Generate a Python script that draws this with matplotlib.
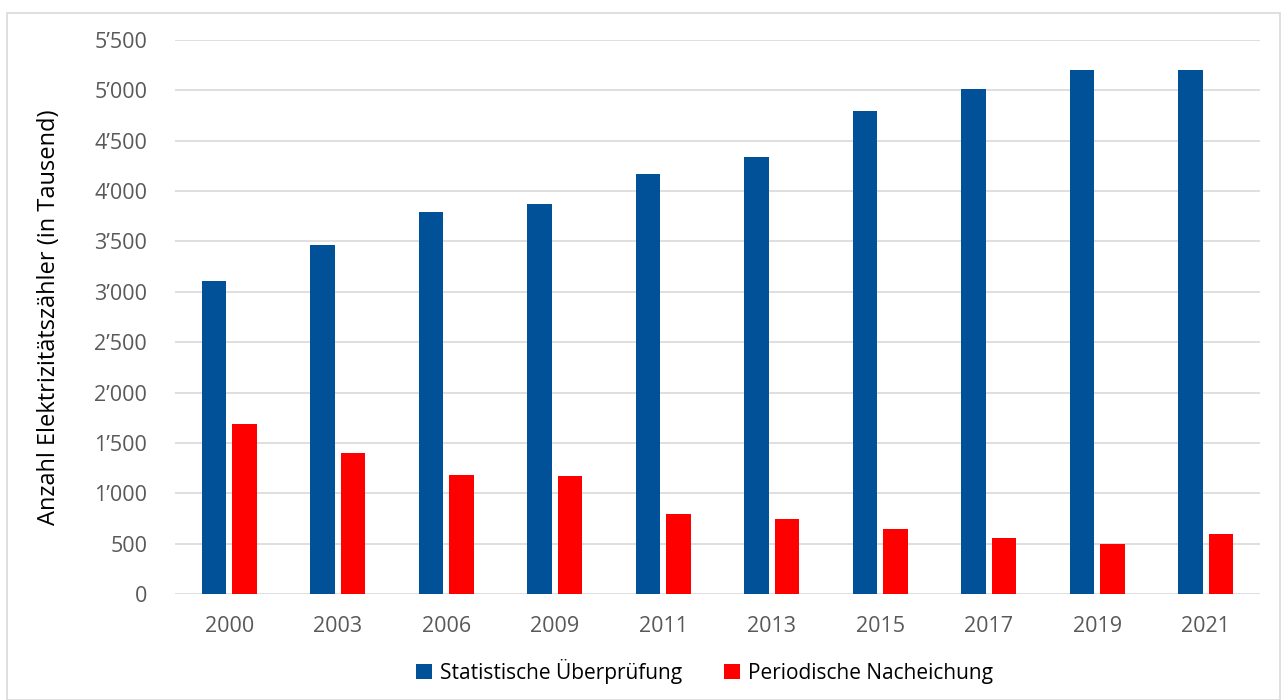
import numpy as np
import matplotlib
matplotlib.use("Agg")
import matplotlib.pyplot as plt
from matplotlib.patches import Rectangle
from matplotlib.ticker import FuncFormatter, MultipleLocator

years = ["2000", "2003", "2006", "2009", "2011", "2013", "2015", "2017", "2019", "2021"]
statistische = [3110, 3460, 3790, 3870, 4170, 4340, 4800, 5010, 5200, 5200]
periodische = [1690, 1400, 1180, 1170, 790, 740, 650, 560, 500, 600]

plt.rcParams['font.family'] = ['Open Sans', 'DejaVu Sans']

fig = plt.figure(figsize=(12.88, 7.0), dpi=100)
ax = fig.add_axes([175 / 1288, 1 - 594 / 700, (1260 - 175) / 1288, (594 - 40) / 700])

# Outer chart border
fig.patches.append(Rectangle((7 / 1288, 0), 1273 / 1288, 1 - 13 / 700, transform=fig.transFigure,
                             fill=False, edgecolor='#d9d9d9', linewidth=1.2))

x = np.arange(len(years))
barWidth = 0.225
ax.bar(x - 0.14, statistische, barWidth, color='#005197', label='Statistische Überprüfung', zorder=3)
ax.bar(x + 0.14, periodische, barWidth, color='#ff0000', label='Periodische Nacheichung', zorder=3)

ax.set_xlim(-0.5, len(years) - 0.5)
ax.set_ylim(0, 5500)
ax.yaxis.set_major_locator(MultipleLocator(500))
ax.yaxis.set_major_formatter(FuncFormatter(lambda v, p: f"{int(v):,}".replace(",", "\u2019")))
ax.set_xticks(x)
ax.set_xticklabels(years)

ax.grid(axis='y', color='#d9d9d9', linewidth=1.2, zorder=0)
for s in ['top', 'right', 'left', 'bottom']:
    ax.spines[s].set_visible(False)
ax.tick_params(axis='both', length=0, labelsize=15.5, labelcolor='#595959')
ax.tick_params(axis='y', pad=20)
ax.tick_params(axis='x', pad=16)

ax.set_ylabel("Anzahl Elektrizitätszähler (in Tausend)", fontsize=17, color='black', labelpad=24)

ax.legend(loc='center', bbox_to_anchor=(0.488, -0.14), ncol=2, frameon=False, fontsize=15,
          handlelength=0.75, handleheight=0.75, handletextpad=0.4, columnspacing=2.0)

fig.savefig("out.png", dpi=100)
